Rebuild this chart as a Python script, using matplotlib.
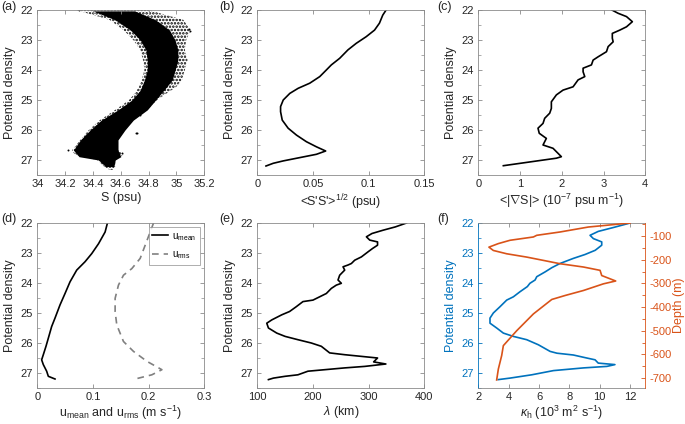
import matplotlib
matplotlib.use("Agg")
import matplotlib.pyplot as plt
from matplotlib.ticker import MultipleLocator
import numpy as np

# (a) salinity cloud, read as envelopes (left/right edge of the point cloud)
sig_cloud = [22.0, 22.33, 22.67, 23.0, 23.33, 23.67, 24.0, 24.33, 24.56, 24.78,
             25.0, 25.33, 25.67, 26.0, 26.33, 26.67, 26.83, 27.0, 27.22, 27.33]
s_outer_left = [34.28, 34.52, 34.62, 34.69, 34.74, 34.76, 34.77, 34.75, 34.73, 34.70,
                34.66, 34.56, 34.45, 34.37, 34.31, 34.25, 34.27, 34.43, 34.48, 34.52]
s_outer_right = [34.80, 35.05, 35.10, 35.07, 35.06, 35.08, 35.06, 35.04, 35.00, 34.93,
                 34.86, 34.79, 34.69, 34.63, 34.58, 34.58, 34.62, 34.56, 34.56, 34.54]
sig_core = [22.03, 22.33, 22.67, 23.0, 23.33, 23.67, 24.0, 24.33, 24.67, 25.0,
            25.33, 25.67, 26.0, 26.33, 26.67, 26.89, 27.0, 27.22]
s_core_left = [34.40, 34.56, 34.67, 34.74, 34.78, 34.79, 34.79, 34.77, 34.74, 34.68,
               34.58, 34.46, 34.38, 34.31, 34.26, 34.30, 34.44, 34.49]
s_core_right = [34.70, 34.85, 34.95, 34.99, 35.01, 35.01, 34.99, 34.97, 34.91, 34.85,
                34.79, 34.69, 34.63, 34.58, 34.58, 34.60, 34.56, 34.55]
s_outliers = [34.71, 34.72, 34.61, 34.61, 34.74, 34.70, 34.22, 35.09, 35.10, 34.30]
sig_outliers = [26.09, 26.09, 25.94, 26.78, 25.50, 25.56, 26.67, 22.62, 22.70, 22.0]

# (b) salinity variance
sig_b = [22.0, 22.17, 22.44, 22.67, 22.89, 23.11, 23.33, 23.61, 23.83, 24.0, 24.22,
         24.44, 24.61, 24.78, 25.0, 25.22, 25.39, 25.67, 25.94, 26.17, 26.39, 26.56,
         26.7, 26.81, 26.92, 27.03, 27.11, 27.2]
ss_b = [0.1157, 0.1127, 0.1097, 0.1053, 0.0978, 0.0889, 0.0814, 0.074, 0.0665, 0.062,
        0.0561, 0.0471, 0.0367, 0.0292, 0.0233, 0.0209, 0.0209, 0.0224, 0.0277, 0.0352,
        0.0441, 0.0531, 0.0614, 0.0531, 0.0382, 0.0233, 0.0143, 0.0078]

# (c) salinity gradient
sig_c = [22.0, 22.11, 22.22, 22.39, 22.56, 22.67, 22.78, 22.94, 23.06, 23.22, 23.39,
         23.56, 23.67, 23.83, 23.94, 24.06, 24.22, 24.33, 24.56, 24.67, 24.83, 25.06,
         25.28, 25.44, 25.61, 25.78, 25.94, 26.11, 26.28, 26.5, 26.61, 26.89, 26.94, 27.19]
grad_c = [3.20, 3.35, 3.55, 3.69, 3.55, 3.39, 3.21, 3.21, 3.23, 3.11, 3.07,
          2.87, 2.75, 2.71, 2.51, 2.51, 2.55, 2.39, 2.27, 2.03, 1.87, 1.75,
          1.75, 1.71, 1.59, 1.55, 1.43, 1.46, 1.63, 1.55, 1.79, 1.99, 1.87, 0.60]

# (d) velocities
sig_umean = [22.0, 22.3, 22.69, 23.02, 23.29, 23.57, 23.96, 24.35, 24.73, 25.17, 25.45,
             25.84, 26.11, 26.39, 26.56, 26.72, 26.94, 27.11, 27.2]
umean = [0.126, 0.1218, 0.11, 0.0978, 0.0858, 0.0708, 0.0588, 0.0498, 0.0408, 0.0318,
         0.0258, 0.0198, 0.0156, 0.0108, 0.0078, 0.0108, 0.0168, 0.0198, 0.0318]
sig_urms = [22.0, 22.3, 22.74, 23.18, 23.52, 23.74, 24.07, 24.51, 24.95, 25.4, 25.95,
            26.28, 26.61, 26.89, 27.06, 27.2]
urms = [0.2088, 0.2028, 0.1938, 0.1848, 0.1698, 0.1548, 0.1458, 0.1398, 0.1398, 0.1428,
        0.1548, 0.1728, 0.1968, 0.2238, 0.2058, 0.1758]

# (e) eddy length scale
sig_e = [22.0, 22.13, 22.24, 22.35, 22.46, 22.57, 22.63, 22.74, 22.85, 22.96, 23.13,
         23.24, 23.35, 23.4, 23.46, 23.57, 23.74, 23.9, 24.01, 24.07, 24.18, 24.35,
         24.46, 24.57, 24.62, 24.79, 24.95, 25.06, 25.23, 25.34, 25.5, 25.67, 25.78,
         25.89, 26.0, 26.11, 26.33, 26.39, 26.5, 26.63, 26.7, 26.78, 26.83, 26.89,
         26.94, 27.06, 27.11, 27.17, 27.22]
lam_e = [368, 348, 326, 306, 296, 302, 316, 316, 307, 299, 287,
         275, 269, 263, 254, 257, 248, 245, 251, 242, 233, 224,
         212, 200, 182, 170, 158, 144, 126, 117, 120, 135, 150,
         173, 197, 215, 230, 257, 316, 309, 331, 293, 257, 221,
         191, 173, 150, 129, 120]

# (f) diffusivity vs density and vs depth
sig_f = [22.0, 22.15, 22.28, 22.41, 22.52, 22.63, 22.74, 22.91, 23.05, 23.18, 23.35,
         23.49, 23.63, 23.79, 23.9, 24.01, 24.12, 24.29, 24.46, 24.57, 24.79, 25.0,
         25.17, 25.34, 25.5, 25.67, 25.78, 25.89, 26.06, 26.28, 26.34, 26.4, 26.5,
         26.56, 26.67, 26.72, 26.78, 26.83, 26.92, 27.06, 27.17, 27.22]
kappa_sig = [12.0, 10.9, 9.9, 9.36, 9.58, 10.13, 10.13, 9.7, 9.03, 8.26, 7.38,
             6.84, 6.4, 5.85, 5.74, 5.4, 5.23, 4.75, 4.31, 3.87, 3.43, 2.99,
             2.77, 2.77, 3.21, 3.65, 4.31, 5.19, 5.96, 6.73, 7.18, 8.26, 9.14,
             9.69, 9.9, 11.0, 10.47, 8.93, 6.95, 5.52, 4.09, 3.32]
depth_f = [-45, -62, -83, -97, -104, -118, -132, -147, -161, -175, -189, -203, -217,
           -231, -245, -267, -290, -302, -330, -351, -368, -429, -500, -563, -605,
           -662, -708]
kappa_depth = [12.0, 9.25, 7.38, 5.85, 5.63, 4.09, 3.32, 2.7, 2.99, 3.87, 5.19, 6.29,
               7.38, 8.93, 10.02, 10.13, 11.05, 10.24, 8.93, 7.73, 6.84, 5.63, 4.53,
               3.65, 3.54, 3.32, 3.21]

BLUE = "#0072BD"
ORANGE = "#D95319"
GRID_GREY = "#8a8a8a"
TXT = "#262626"
LABEL_FS = 9
TICK_FS = 8


def style_axes(ax, ylabel_color=TXT):
  for sp in ax.spines.values():
    sp.set_color(GRID_GREY)
    sp.set_linewidth(0.6)
  ax.tick_params(direction="in", top=True, right=True, length=3, width=0.6,
                 color=GRID_GREY, labelcolor=TXT, labelsize=TICK_FS, pad=3)
  ax.tick_params(which="minor", direction="in", left=True, right=True, length=2,
                 width=0.5, color=GRID_GREY)
  ax.set_ylim(27.5, 22)
  ax.set_yticks([22, 23, 24, 25, 26, 27])
  ax.yaxis.set_minor_locator(MultipleLocator(0.5))
  ax.set_ylabel("Potential density", fontsize=LABEL_FS, color=ylabel_color, labelpad=3)


def main():
  plt.rcParams["font.family"] = ["Liberation Sans", "DejaVu Sans"]
  plt.rcParams["mathtext.fontset"] = "custom"
  plt.rcParams["mathtext.rm"] = "Liberation Sans"
  plt.rcParams["mathtext.it"] = "Liberation Sans:italic"
  plt.rcParams["axes.unicode_minus"] = False
  plt.rcParams["hatch.linewidth"] = 1.2

  fig = plt.figure(figsize=(6.85, 4.24), dpi=100)
  W, H = 685.0, 424.0
  lefts = [37.3, 257.3, 478.3]
  tops = [10, 223]
  w_px, h_px = 167.0, 165.0

  axs = []
  for r in range(2):
    for c in range(3):
      ax = fig.add_axes([lefts[c] / W, 1 - (tops[r] + h_px) / H, w_px / W, h_px / H])
      axs.append(ax)
  ax_a, ax_b, ax_c, ax_d, ax_e, ax_f = axs

  # (a)
  style_axes(ax_a)
  ax_a.fill_betweenx(sig_cloud, s_outer_left, s_outer_right, facecolor="white",
                     edgecolor="black", hatch=".....", linewidth=0)
  ax_a.fill_betweenx(sig_core, s_core_left, s_core_right, color="black", linewidth=0)
  ax_a.scatter(s_outliers, sig_outliers, s=2, color="black", linewidths=0)
  ax_a.set_xlim(34, 35.2)
  ax_a.set_xticks([34, 34.2, 34.4, 34.6, 34.8, 35, 35.2])
  ax_a.set_xticklabels(["34", "34.2", "34.4", "34.6", "34.8", "35", "35.2"])
  ax_a.set_xlabel("S (psu)", fontsize=LABEL_FS, color=TXT, labelpad=2)

  # (b)
  style_axes(ax_b)
  ax_b.plot(ss_b, sig_b, color="black", lw=1.2)
  ax_b.set_xlim(0, 0.15)
  ax_b.set_xticks([0, 0.05, 0.1, 0.15])
  ax_b.set_xticklabels(["0", "0.05", "0.1", "0.15"])
  ax_b.set_xlabel(r"<S'S'>$^{1/2}$ (psu)", fontsize=LABEL_FS, color=TXT, labelpad=2)

  # (c)
  style_axes(ax_c)
  ax_c.plot(grad_c, sig_c, color="black", lw=1.2)
  ax_c.set_xlim(0, 4)
  ax_c.set_xticks([0, 1, 2, 3, 4])
  ax_c.set_xlabel(r"<|$\nabla$S|> (10$^{-7}$ psu m$^{-1}$)", fontsize=LABEL_FS,
                  color=TXT, labelpad=2)

  # (d)
  style_axes(ax_d)
  ax_d.plot(umean, sig_umean, color="black", lw=1.2, label=r"u$_{\rm mean}$")
  ax_d.plot(urms, sig_urms, color="#808080", lw=1.2, ls=(0, (4, 3)), label=r"u$_{\rm rms}$")
  ax_d.set_xlim(0, 0.3)
  ax_d.set_xticks([0, 0.1, 0.2, 0.3])
  ax_d.set_xticklabels(["0", "0.1", "0.2", "0.3"])
  ax_d.set_xlabel(r"u$_{\rm mean}$ and u$_{\rm rms}$ (m s$^{-1}$)", fontsize=LABEL_FS,
                  color=TXT, labelpad=1)
  leg = ax_d.legend(loc="upper right", fontsize=7, frameon=True, fancybox=False,
                    borderaxespad=0.45, handlelength=1.7, labelspacing=0.7,
                    borderpad=0.35, handletextpad=0.4)
  leg.get_frame().set_edgecolor(GRID_GREY)
  leg.get_frame().set_linewidth(0.6)

  # (e)
  style_axes(ax_e)
  ax_e.plot(lam_e, sig_e, color="black", lw=1.2)
  ax_e.set_xlim(100, 400)
  ax_e.set_xticks([100, 200, 300, 400])
  ax_e.set_xlabel(r"$\lambda$ (km)", fontsize=LABEL_FS, color=TXT, labelpad=1)

  # (f)
  style_axes(ax_f, ylabel_color=BLUE)
  ax_f.tick_params(axis="y", which="both", colors=BLUE, right=False)
  ax_f.spines["left"].set_color(BLUE)
  ax_f.spines["right"].set_visible(False)
  ax_f.plot(kappa_sig, sig_f, color=BLUE, lw=1.2)
  ax_f.set_xlim(2, 13)
  ax_f.set_xticks([2, 4, 6, 8, 10, 12])
  ax_f.set_xlabel(r"$\kappa_{\rm h}$ (10$^3$ m$^2$ s$^{-1}$)", fontsize=LABEL_FS,
                  color=TXT, labelpad=1)

  ax_f2 = ax_f.twinx()
  ax_f2.plot(kappa_depth, depth_f, color=ORANGE, lw=1.2)
  ax_f2.set_ylim(-742, -45)
  ax_f2.set_yticks([-100, -200, -300, -400, -500, -600, -700])
  ax_f2.yaxis.set_minor_locator(MultipleLocator(50))
  for side in ["left", "top", "bottom"]:
    ax_f2.spines[side].set_visible(False)
  ax_f2.spines["right"].set_color(ORANGE)
  ax_f2.spines["right"].set_linewidth(0.6)
  ax_f2.tick_params(axis="y", which="both", direction="in", colors=ORANGE,
                    labelsize=TICK_FS, length=3, width=0.6, pad=3)
  ax_f2.tick_params(axis="y", which="minor", length=2)
  ax_f2.set_ylabel("Depth (m)", fontsize=LABEL_FS, color=ORANGE, labelpad=1)

  # panel letters
  for txt, x, y in [("(a)", 1, 7), ("(b)", 219, 7), ("(c)", 437, 7),
                    ("(d)", 1, 219), ("(e)", 219, 219), ("(f)", 437, 219)]:
    fig.text(x / W, 1 - y / H, txt, fontsize=LABEL_FS, color=TXT, ha="left", va="center")

  fig.savefig("out.png", dpi=100)


if __name__ == "__main__":
  main()
